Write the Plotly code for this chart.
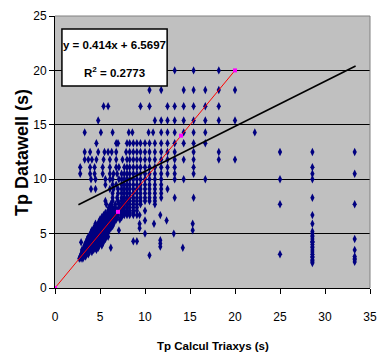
import plotly.graph_objects as go

# ---- Data ----
# Quantized Datawell rows: y value and the Triaxys x values on that row
row_20_0 = [13.3, 15.4, 18.2]
row_18_2 = [10.5, 11.8, 14.3, 15.4, 16.7, 18.2, 20.0]
row_16_7 = [5.4, 5.9, 9.5, 10.5, 12.5, 13.3, 14.3, 15.4, 16.7, 18.2]
row_15_4 = [4.8, 11.1, 11.8, 12.5, 13.3, 14.3, 15.4, 16.7, 18.2, 20.0]
row_14_3 = [3.3, 5.1, 6.4, 8.2, 8.6, 10.4, 10.9, 11.8, 12.5, 13.3, 14.3, 15.4, 16.7, 22.2]
row_13_3 = [4.6, 6.8, 7.0, 8.0, 8.3, 8.7, 9.1, 9.5, 10.0, 10.5, 11.1, 11.8, 12.5, 13.3,
            14.3, 15.4, 16.7]
row_12_5 = [3.3, 3.9, 4.8, 5.5, 5.9, 6.3, 6.8, 7.9, 8.3, 8.7, 9.1, 9.5, 10.0, 10.5, 11.1,
            11.8, 12.5, 13.3, 15.4, 18.2, 25.0, 28.6, 33.3]
row_11_8 = [3.3, 3.7, 4.1, 4.6, 5.4, 6.1, 6.8, 7.5, 8.0, 8.3, 8.7, 9.1, 9.5, 10.0, 10.5,
            11.1, 11.8, 12.5, 13.3, 14.3, 15.4, 18.2, 20.0]
row_11_1 = [2.8, 3.9, 4.4, 5.3, 6.1, 6.8, 7.1, 7.7, 8.0, 8.3, 8.7, 9.1, 9.5, 10.0, 10.5,
            11.1, 11.8, 12.5, 13.3, 15.4, 28.6]
row_10_5 = [2.8, 3.9, 4.4, 5.3, 6.1, 6.5, 6.9, 7.4, 7.7, 8.0, 8.3, 8.7, 9.1, 9.5, 10.0,
            10.5, 11.1, 11.8, 12.5, 13.3, 15.4, 28.6, 33.3]
row_10_0 = [4.0, 4.5, 5.6, 6.1, 6.4, 7.1, 7.4, 7.7, 8.0, 8.3, 8.7, 9.1, 9.5, 10.0, 10.5,
            11.1, 11.8, 13.3, 14.3, 16.7, 25.0, 28.6]
row_9_5 = [5.6, 6.4, 6.8, 7.4, 7.7, 8.0, 8.3, 8.7, 9.1, 9.5, 10.0, 10.5, 11.1, 11.8]
row_9_1 = [4.0, 4.5, 6.1, 6.5, 7.0, 7.4, 7.7, 8.0, 8.3, 8.7, 9.1, 9.5, 10.0, 10.5, 11.1,
           11.8, 12.5]
row_8_7 = [6.4, 7.0, 7.4, 7.7, 8.0, 8.3, 8.7, 9.1, 9.5, 10.0, 10.5, 11.1, 11.8]
row_8_3 = [6.4, 6.9, 7.4, 7.7, 8.0, 8.3, 8.7, 9.1, 9.5, 10.0, 10.5, 11.1, 11.8, 13.3,
           15.4, 28.6]
row_8_0 = [5.6, 6.4, 7.0, 7.4, 7.7, 8.0, 8.3, 8.7, 9.1, 9.5, 10.0, 10.5, 11.1]
row_7_7 = [5.7, 6.2, 6.7, 7.1, 7.4, 7.7, 8.0, 8.3, 8.7, 9.1, 9.5, 11.1, 25.0, 33.3]
row_7_4 = [6.0, 6.4, 6.7, 7.1, 7.4, 7.7, 8.0, 8.3, 8.7, 9.1]
row_7_1 = [5.9, 6.2, 6.5, 6.9, 7.1, 7.4, 7.7, 8.0, 8.3, 8.7, 9.1, 10.0]
row_6_9 = [5.6, 5.9, 6.2, 6.5, 6.9, 7.4, 7.7, 8.0, 8.3, 8.7]
row_6_7 = [5.4, 5.6, 5.8, 6.1, 6.4, 6.7, 7.0, 7.4, 7.7, 8.0, 8.3, 8.7, 9.1, 9.4, 11.7, 28.6]
row_6_5 = [5.2, 5.4, 5.6, 5.8, 6.0, 6.3, 6.6, 6.9, 7.4]
row_6_3 = [5.0, 5.2, 5.4, 5.6, 5.8, 6.1, 6.4, 6.8, 7.2]
row_6_2 = [10.0, 12.4]
row_6_1 = [4.9, 5.1, 5.3, 5.5, 5.7, 6.0, 6.3, 6.6]
row_5_9 = [4.5, 4.8, 5.0, 5.2, 5.4, 5.6, 5.9, 6.2, 6.5, 9.4, 11.0, 15.3, 28.6]
row_5_7 = [4.5, 4.7, 4.9, 5.1, 5.3, 5.5, 5.8, 6.1, 6.4]
row_5_5 = [4.3, 4.5, 4.7, 4.9, 5.1, 5.3, 5.6, 5.9, 6.2, 9.4]
row_5_3 = [4.1, 4.3, 4.5, 4.7, 4.9, 5.1, 5.4, 5.7, 6.0, 7.1, 15.3]
row_5_1 = [4.0, 4.2, 4.4, 4.6, 4.8, 5.0, 5.3, 5.6, 5.9]
row_5_0 = [10.0, 13.2]
row_4_9 = [3.9, 4.1, 4.3, 4.5, 4.7, 4.9, 5.2, 5.5, 5.8]
row_4_7 = [3.7, 3.9, 4.1, 4.3, 4.5, 4.7, 5.0, 5.3, 5.6, 5.9]
row_4_5 = [3.6, 3.8, 4.0, 4.2, 4.4, 4.6, 4.9, 5.2, 5.6, 33.3]
row_4_4 = [11.7]
row_4_3 = [3.5, 3.7, 3.9, 4.1, 4.3, 4.5, 4.8, 5.1, 5.4, 8.7, 9.1]
row_4_2 = [2.9]
row_4_1 = [3.4, 3.6, 3.8, 4.0, 4.2, 4.4, 4.7, 5.0, 5.3, 11.7]
row_3_9 = [3.3, 3.5, 3.7, 3.9, 4.1, 4.3, 4.6, 4.9, 5.2]
row_3_8 = [11.7]
row_3_7 = [3.2, 3.4, 3.6, 3.8, 4.0, 4.2, 4.5, 4.8, 6.2, 14.2]
row_3_5 = [3.0, 3.2, 3.4, 3.6, 3.8, 4.0, 4.3, 4.6, 33.3]
row_3_3 = [3.0, 3.2, 3.4, 3.6, 3.8, 4.1]
row_3_1 = [2.9, 3.1, 3.3, 3.5, 3.7, 25.0]
row_3_0 = [10.5]
row_2_9 = [2.8, 3.0, 3.2, 3.4, 33.3]
row_2_7 = [2.7, 2.9, 3.1, 33.3]
row_2_6 = [33.3]
row_2_4 = [33.3]

row_values = [20.0, 18.2, 16.7, 15.4, 14.3, 13.3, 12.5, 11.8, 11.1, 10.5, 10.0, 9.5, 9.1,
              8.7, 8.3, 8.0, 7.7, 7.4, 7.1, 6.9, 6.7, 6.5, 6.3, 6.2, 6.1, 5.9, 5.7, 5.5,
              5.3, 5.1, 5.0, 4.9, 4.7, 4.5, 4.4, 4.3, 4.2, 4.1, 3.9, 3.8, 3.7, 3.5, 3.3,
              3.1, 3.0, 2.9, 2.7, 2.6, 2.4]
row_lists = [row_20_0, row_18_2, row_16_7, row_15_4, row_14_3, row_13_3, row_12_5,
             row_11_8, row_11_1, row_10_5, row_10_0, row_9_5, row_9_1, row_8_7, row_8_3,
             row_8_0, row_7_7, row_7_4, row_7_1, row_6_9, row_6_7, row_6_5, row_6_3,
             row_6_2, row_6_1, row_5_9, row_5_7, row_5_5, row_5_3, row_5_1, row_5_0,
             row_4_9, row_4_7, row_4_5, row_4_4, row_4_3, row_4_2, row_4_1, row_3_9,
             row_3_8, row_3_7, row_3_5, row_3_3, row_3_1, row_3_0, row_2_9, row_2_7,
             row_2_6, row_2_4]

# Long-period Triaxys column at 28.6 s (low Datawell values)
col_28_6_y = [5.2, 5.0, 4.8, 4.7, 4.5, 4.3, 4.2, 4.0, 3.8, 3.7, 3.5, 3.3, 3.1, 2.9, 2.8,
              2.6, 2.5, 2.4, 2.3]
col_28_6_x = 28.6

# 1:1 line with its markers
ref_x = [0, 7, 14, 20]
ref_y = [0, 7, 14, 20]

# Linear trend
slope = 0.414
intercept = 6.5697
r2 = 0.2773
trend_x = [2.6, 33.4]

x_title = "Tp Calcul Triaxys (s)"
y_title = "Tp Datawell (s)"

xs, ys = [], []
for yv, xl in zip(row_values, row_lists):
    for xv in xl:
        xs.append(xv)
        ys.append(yv)
for yv in col_28_6_y:
    xs.append(col_28_6_x)
    ys.append(yv)

trend_y = [slope * v + intercept for v in trend_x]

FONT = "Liberation Sans, Arial, sans-serif"

fig = go.Figure()
fig.add_trace(go.Scatter(x=xs, y=ys, mode="markers",
                         marker=dict(symbol="diamond-tall", size=6, color="#000080",
                                     line=dict(width=0)),
                         showlegend=False, hoverinfo="x+y"))
fig.add_trace(go.Scatter(x=ref_x, y=ref_y, mode="lines+markers",
                         line=dict(color="#FF0000", width=1),
                         marker=dict(symbol="square", size=4, color="#FF00FF"),
                         showlegend=False))
fig.add_trace(go.Scatter(x=trend_x, y=trend_y, mode="lines",
                         line=dict(color="black", width=1.6), showlegend=False))

fig.update_layout(
    width=380, height=356,
    margin=dict(l=55, r=10, t=16, b=68, autoexpand=False),
    paper_bgcolor="white",
    plot_bgcolor="#C0C0C0",
    font=dict(family=FONT, size=12, color="black"),
    xaxis=dict(range=[0, 35], dtick=5, tick0=0, showgrid=False, zeroline=False,
               showline=True, linecolor="black", linewidth=1, automargin=False,
               ticks="outside", ticklen=5, tickcolor="black",
               ticklabelstandoff=13, tickfont=dict(size=12)),
    yaxis=dict(range=[0, 25], dtick=5, tick0=0, showgrid=True, gridcolor="black",
               gridwidth=1, zeroline=False, automargin=False,
               showline=True, linecolor="black", linewidth=1,
               ticks="outside", ticklen=5, tickcolor="black",
               tickfont=dict(size=12)),
    shapes=[
        dict(type="line", xref="paper", yref="paper", x0=0, x1=1, y0=1, y1=1,
             line=dict(color="#808080", width=1), layer="above"),
        dict(type="line", xref="paper", yref="paper", x0=1, x1=1, y0=0, y1=1,
             line=dict(color="#808080", width=1), layer="above"),
        dict(type="rect", xref="paper", yref="paper", x0=0.022, x1=0.356,
             y0=0.743, y1=0.952, fillcolor="white",
             line=dict(color="black", width=1.5), layer="above"),
    ],
    annotations=[
        dict(xref="paper", yref="paper", x=0.189, y=0.893, showarrow=False,
             text=f"<b>y = {slope}x + {intercept}</b>",
             font=dict(family=FONT, size=11.5), xanchor="center", yanchor="middle"),
        dict(xref="paper", yref="paper", x=0.189, y=0.794, showarrow=False,
             text=f"<b>R<sup>2</sup> = {r2}</b>",
             font=dict(family=FONT, size=11.5), xanchor="center", yanchor="middle"),
        dict(xref="paper", yref="paper", x=0.5, y=-0.213, showarrow=False,
             text=f"<b>{x_title}</b>", font=dict(family=FONT, size=11.5),
             xanchor="center", yanchor="middle"),
        dict(xref="paper", yref="paper", x=-0.105, y=0.5, showarrow=False,
             text=f"<b>{y_title}</b>", font=dict(family=FONT, size=18),
             textangle=-90, xanchor="center", yanchor="middle"),
    ],
)

fig.write_html("out.html",
               config={"displayModeBar": False},
               post_script="document.body.style.margin='0px';"
                           "document.body.style.overflow='hidden';")
